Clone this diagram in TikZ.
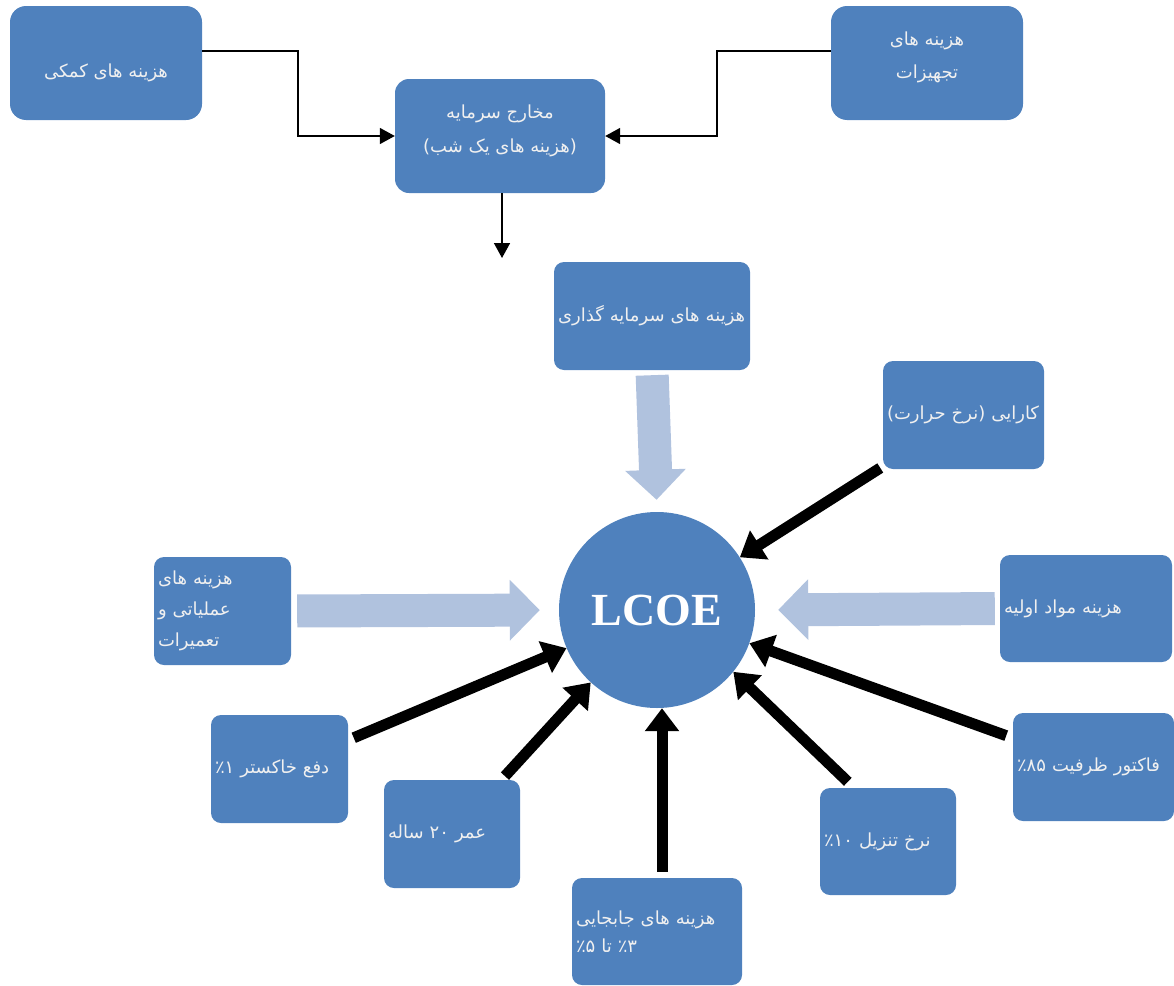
\documentclass[tikz,border=0pt]{standalone}
\usepackage{fontspec}
\setmainfont{Liberation Serif}
\newfontfamily\fa[Script=Arabic]{DejaVu Sans}
\TeXXeTstate=1
\usetikzlibrary{arrows.meta,calc}
\definecolor{boxblue}{HTML}{4F81BD}
\definecolor{lightarr}{HTML}{B0C2DE}
\newcommand\rl[1]{\beginR #1\endR}
\newcommand\lr[1]{\beginL #1\endL}
\begin{document}
\begin{tikzpicture}[x=1pt,y=-1pt,
 box/.style={fill=boxblue, rounded corners=10pt, inner xsep=4pt, inner ysep=0pt,
   text=white!94!black, font=\fa\fontsize{18}{31}\selectfont},
 txt/.style={text=white!94!black, inner sep=0pt, align=center, font=\fa\fontsize{18}{34}\selectfont},
 conn/.style={line width=1.6pt, -{Triangle[length=15pt,width=16pt]}},
 heavy/.style={line width=11pt, -{Triangle[length=23pt,width=33pt]}},
 light/.style={draw=lightarr, line width=33pt, -{Triangle[length=30pt,width=59pt]}},
]
\useasboundingbox (0,0) rectangle (1174,985);

% top part
\node[box, rounded corners=16pt, minimum width=192pt, minimum height=114pt] (A) at (106,63) {};
\node[txt] (At) at (106,73) {\rl{هزینه های کمکی}};
\node[box, rounded corners=14pt, minimum width=210pt, minimum height=114pt] (B) at (500,136) {};
\node[txt] (Bt) at (500,131) {\rl{مخارج سرمایه}\\\rl{\hbox{(}هزینه های یک شب\hbox{)}}};
\node[box, rounded corners=16pt, minimum width=192pt, minimum height=114pt] (C) at (927,63) {};
\node[txt, font=\fa\fontsize{18}{33}\selectfont] (Ct) at (927,57) {\rl{هزینه های}\\\rl{تجهیزات}};
\coordinate (Bend) at (502,258);

\draw[conn] ([yshift=12pt]A.east) -- ++(96,0) |- (B.west);
\draw[conn] ([yshift=12pt]C.east -| C.west) -- ++(-114,0) |- (B.east);
\draw[conn] (B.south -| Bend) -- (Bend);

% LCOE circle
\node[circle, fill=boxblue, minimum size=196pt, inner sep=0pt, text=white,
  font=\fontsize{46}{50}\selectfont\bfseries] (lcoe) at (657,610) {LCOE};

% lower boxes
\node[box, minimum width=196pt, minimum height=108pt, text width=188pt, align=left]
  (D) at (652,316) {\rl{هزینه های سرمایه گذاری}};
\node[box, minimum width=161pt, minimum height=108pt, text width=153pt, align=left]
  (E) at (963.5,415) {\rl{کارایی \hbox{(}نرخ حرارت\hbox{)}}};
\node[box, minimum width=172pt, minimum height=107pt, text width=164pt, align=left]
  (F) at (1086,608.5) {\rl{هزینه مواد اولیه}};
\node[box, minimum width=137pt, minimum height=108pt, text width=129pt, align=left]
  (G) at (222.5,611) {\rl{هزینه های}\\\rl{عملیاتی و}\\\rl{تعمیرات}};
\node[box, minimum width=137pt, minimum height=108pt, text width=129pt, align=left]
  (H) at (279.5,769) {\rl{دفع خاکستر \lr{۱}٪}};
\node[box, minimum width=136pt, minimum height=108pt, text width=128pt, align=left]
  (I) at (452,834) {\rl{عمر \lr{۲۰} ساله}};
\node[box, minimum width=170pt, minimum height=107pt, text width=162pt, align=left,
  font=\fa\fontsize{18}{28}\selectfont] (J) at (657,931.5) {\rl{هزینه های جابجایی}\\\rl{\lr{۳}٪ تا \lr{۵}٪}};
\node[box, minimum width=136pt, minimum height=107pt, text width=128pt, align=left]
  (K) at (888,841.5) {\rl{نرخ تنزیل \lr{۱۰}٪}};
\node[box, minimum width=161pt, minimum height=108pt, text width=153pt, align=left]
  (L) at (1093.5,767) {\rl{فاکتور ظرفیت \lr{۸۵}٪}};

% light arrows
\draw[light, shorten <=5pt, shorten >=12pt] (D.south) -- (lcoe.north);
\draw[light, shorten <=6pt, shorten >=19pt] (G.east) -- (lcoe.west);
\draw[light, shorten <=5pt, shorten >=23pt] (F.west) -- (lcoe.east);

% heavy arrows
\draw[heavy, shorten <=3pt] (E) -- (lcoe);
\draw[heavy, shorten <=6pt] (H) -- (lcoe);
\draw[heavy, shorten <=5pt] (I) -- (lcoe);
\draw[heavy, shorten <=6pt] ([xshift=5pt]J.north) -- ([xshift=5pt]lcoe.south);
\draw[heavy] ([xshift=28pt,yshift=6pt]K.north west) -- (lcoe.-39);
\draw[heavy, shorten <=7pt] (L) -- (lcoe);
\end{tikzpicture}
\end{document}
